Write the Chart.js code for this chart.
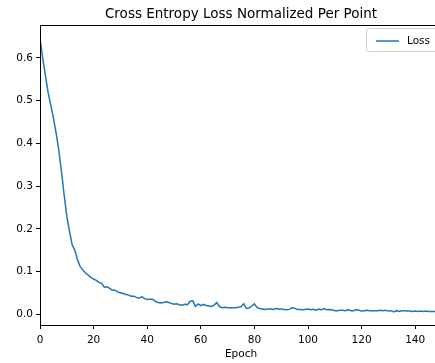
<!DOCTYPE html>
<html>
<head>
<meta charset="utf-8">
<script src="https://cdn.jsdelivr.net/npm/chart.js@4/dist/chart.umd.min.js"></script>
<style>
html, body { margin: 0; padding: 0; background: #fff; overflow: hidden; }
/* the original figure is cut off on the right, so the canvas runs past the window */
#wrap { width: 443px; height: 363px; }
</style>
</head>
<body>
<div id="wrap"><canvas id="lossChart"></canvas></div>
<script>
// data
const epochs = [
    0, 1, 2, 3, 4, 5, 6, 7, 8, 9, 10, 11, 12, 13, 14, 15, 16, 17, 18, 19,
    20, 21, 22, 23, 24, 25, 26, 27, 28, 29, 30, 31, 32, 33, 34, 35, 36, 37, 38, 39,
    40, 41, 42, 43, 44, 45, 46, 47, 48, 49, 50, 51, 52, 53, 54, 55, 56, 57, 58, 59,
    60, 61, 62, 63, 64, 65, 66, 67, 68, 69, 70, 71, 72, 73, 74, 75, 76, 77, 78, 79,
    80, 81, 82, 83, 84, 85, 86, 87, 88, 89, 90, 91, 92, 93, 94, 95, 96, 97, 98, 99,
    100, 101, 102, 103, 104, 105, 106, 107, 108, 109, 110, 111, 112, 113, 114, 115, 116, 117, 118, 119,
    120, 121, 122, 123, 124, 125, 126, 127, 128, 129, 130, 131, 132, 133, 134, 135, 136, 137, 138, 139,
    140, 141, 142, 143, 144, 145, 146, 147, 148, 149, 150
];
const loss = [
    0.645, 0.600, 0.560, 0.520, 0.490, 0.460, 0.425, 0.385, 0.335, 0.280,
    0.230, 0.195, 0.163, 0.150, 0.128, 0.112, 0.104, 0.097, 0.092, 0.087,
    0.083, 0.080, 0.075, 0.073, 0.064, 0.065, 0.061, 0.057, 0.057, 0.053,
    0.051, 0.049, 0.047, 0.046, 0.043, 0.043, 0.040, 0.038, 0.042, 0.037,
    0.035, 0.036, 0.036, 0.031, 0.028, 0.027, 0.028, 0.030, 0.028, 0.026,
    0.024, 0.025, 0.023, 0.022, 0.024, 0.023, 0.031, 0.032, 0.019, 0.025,
    0.021, 0.024, 0.021, 0.020, 0.019, 0.022, 0.028, 0.018, 0.016, 0.017,
    0.016, 0.016, 0.016, 0.016, 0.017, 0.018, 0.025, 0.014, 0.015, 0.020,
    0.025, 0.016, 0.014, 0.013, 0.012, 0.013, 0.013, 0.012, 0.014, 0.013,
    0.013, 0.012, 0.011, 0.012, 0.016, 0.015, 0.012, 0.012, 0.011, 0.012,
    0.013, 0.011, 0.012, 0.010, 0.013, 0.011, 0.014, 0.011, 0.012, 0.011,
    0.009, 0.009, 0.010, 0.010, 0.009, 0.011, 0.009, 0.009, 0.011, 0.010,
    0.008, 0.009, 0.010, 0.009, 0.009, 0.009, 0.009, 0.010, 0.009, 0.010,
    0.008, 0.009, 0.006, 0.009, 0.007, 0.009, 0.009, 0.008, 0.008, 0.007,
    0.008, 0.007, 0.008, 0.007, 0.008, 0.007, 0.007, 0.007, 0.007, 0.008,
    0.007
];
const xTicks = [0, 20, 40, 60, 80, 100, 120, 140];
const yTicks = [0.0, 0.1, 0.2, 0.3, 0.4, 0.5, 0.6];

const chartTitle = "Cross Entropy Loss Normalized Per Point";
const seriesName = "Loss";
const lineColor = "#1f77b4";
const font = "'DejaVu Sans', sans-serif";

// matplotlib look: full frame, title on top, boxed legend in the corner
const mplDecor = {
    id: "mplDecor",
    afterDraw(chart) {
        const c = chart.ctx;
        const a = chart.chartArea;
        c.save();
        // frame
        c.strokeStyle = "#000";
        c.lineWidth = 1;
        c.strokeRect(Math.round(a.left) + 0.5, Math.round(a.top) + 0.5,
            Math.round(a.right - a.left) - 1, Math.round(a.bottom - a.top));
        // title
        c.fillStyle = "#000";
        c.font = "13.5px " + font;
        c.textAlign = "center";
        c.textBaseline = "middle";
        c.fillText(chartTitle, (a.left + a.right) / 2, 14);
        // legend
        const bx = 366.5, by = 28.5, bw = 71, bh = 23;
        c.fillStyle = "rgba(255,255,255,0.8)";
        c.strokeStyle = "#d0d0d0";
        c.beginPath();
        c.roundRect(bx, by, bw, bh, 2);
        c.fill();
        c.stroke();
        c.strokeStyle = lineColor;
        c.lineWidth = 1.5;
        c.beginPath();
        c.moveTo(376, 41);
        c.lineTo(399, 41);
        c.stroke();
        c.fillStyle = "#000";
        c.font = "10.5px " + font;
        c.textAlign = "left";
        c.fillText(seriesName, 407, 41);
        c.restore();
    }
};

document.addEventListener("DOMContentLoaded", function () {
    const ctx = document.getElementById("lossChart").getContext("2d");
    new Chart(ctx, {
        type: "line",
        data: {
            datasets: [{
                label: seriesName,
                data: epochs.map((e, i) => ({ x: e, y: loss[i] })),
                borderColor: lineColor,
                borderWidth: 1.5,
                pointRadius: 0,
                tension: 0,
                fill: false
            }]
        },
        options: {
            responsive: true,
            maintainAspectRatio: false,
            animation: false,
            layout: { padding: { top: 25, right: 1, left: 0, bottom: 0 } },
            plugins: {
                legend: { display: false },
                tooltip: { enabled: false },
                title: { display: false }
            },
            scales: {
                x: {
                    type: "linear",
                    min: 0,
                    max: 150,
                    afterBuildTicks: (s) => { s.ticks = xTicks.map(v => ({ value: v })); },
                    afterFit: (s) => { s.height = 38; },
                    border: { display: false },
                    grid: { drawOnChartArea: false, drawTicks: true, tickLength: 4, color: "#000" },
                    ticks: { color: "#000", font: { family: font, size: 10.5 }, padding: 5, maxRotation: 0 },
                    title: {
                        display: true,
                        text: "Epoch",
                        color: "#000",
                        font: { family: font, size: 10.5 },
                        padding: { top: 0, bottom: 2 }
                    }
                },
                y: {
                    min: -0.0245,
                    max: 0.677,
                    afterBuildTicks: (s) => { s.ticks = yTicks.map(v => ({ value: v })); },
                    afterFit: (s) => { s.width = 40; },
                    border: { display: false },
                    grid: { drawOnChartArea: false, drawTicks: true, tickLength: 4, color: "#000" },
                    ticks: {
                        color: "#000",
                        font: { family: font, size: 10.5 },
                        padding: 3,
                        callback: (v) => v.toFixed(1)
                    }
                }
            }
        },
        plugins: [mplDecor]
    });
});
</script>
</body>
</html>
